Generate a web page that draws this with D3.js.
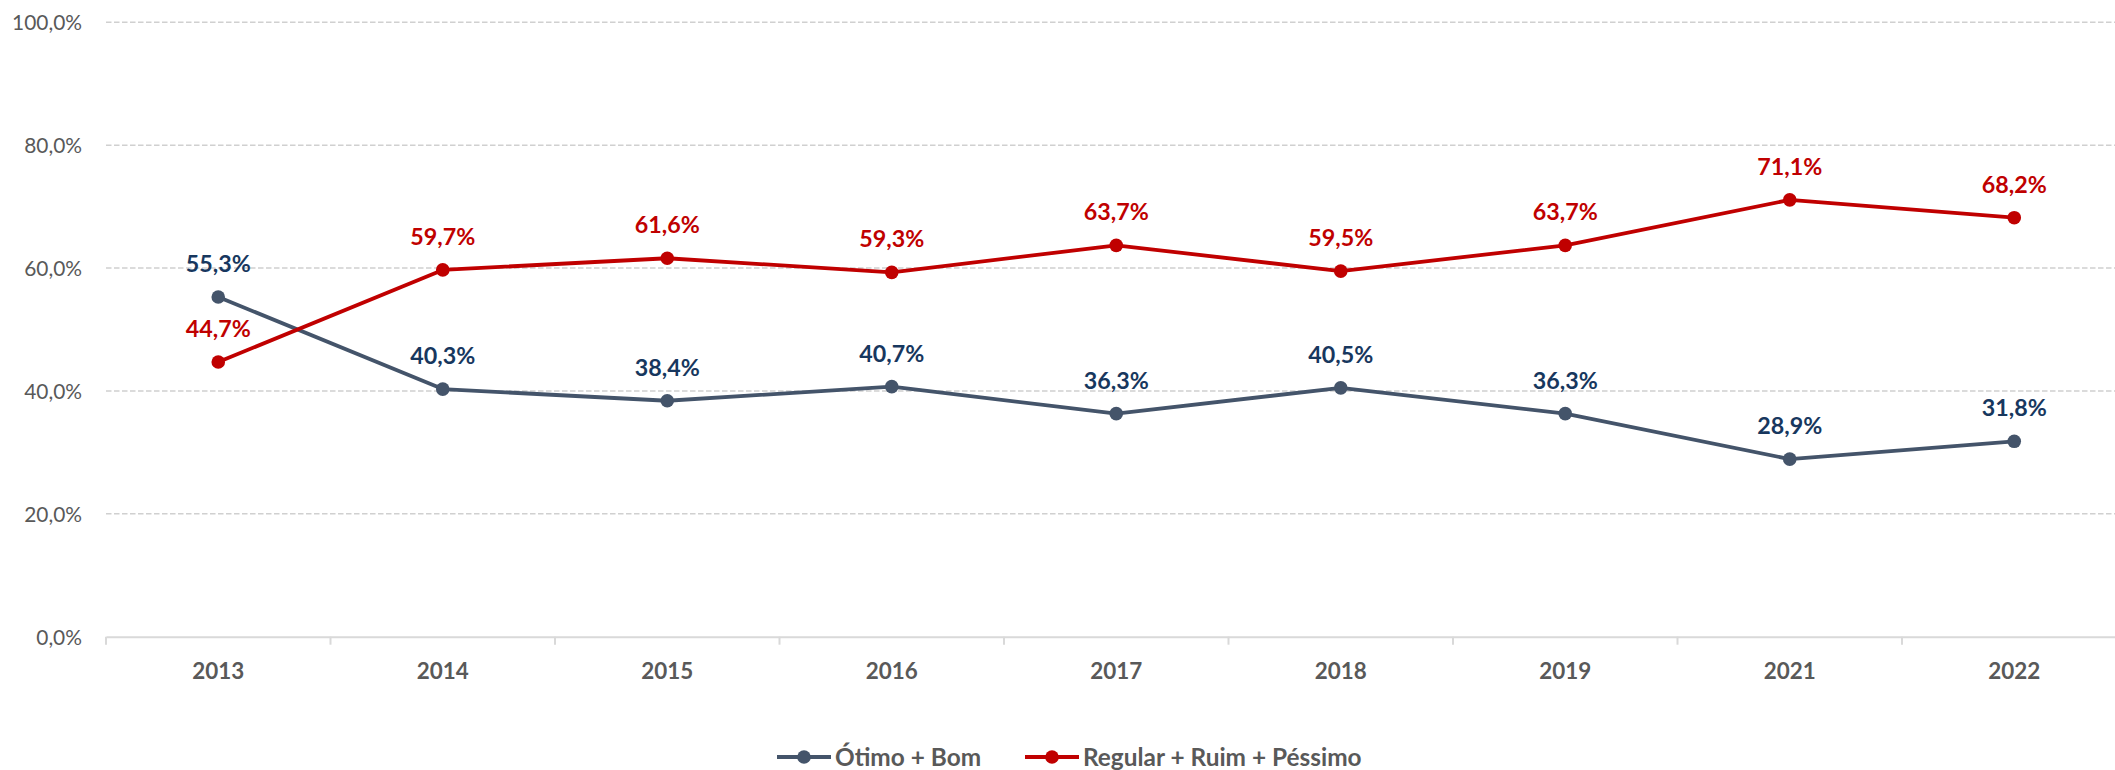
<!DOCTYPE html>
<html><head><meta charset="utf-8">
<script src="https://cdn.jsdelivr.net/npm/d3@7"></script>
<style>html,body{margin:0;padding:0;background:#fff;overflow:hidden}</style>
</head><body>
<script>
const categories = ["2013","2014","2015","2016","2017","2018","2019","2021","2022"];
const otimoBom = [55.3,40.3,38.4,40.7,36.3,40.5,36.3,28.9,31.8];
const regularRuimPessimo = [44.7,59.7,61.6,59.3,63.7,59.5,63.7,71.1,68.2];
const yTicks = [0,20,40,60,80,100];
const seriesNames = ["Ótimo + Bom","Regular + Ruim + Péssimo"];
const seriesColors = ["#44546A","#C00000"];
const labelColors = ["#17375E","#C00000"];

const W = 2115, H = 770;
const svg = d3.select("body").append("svg").attr("width",W).attr("height",H);
const font = "Lato, 'Open Sans', sans-serif";
const fmt = v => d3.format(".1f")(v).replace(".",",");

// font size that makes a sample string reach a target width
function fitSize(sample, weight, target){
  const t = svg.append("text").attr("font-family",font).attr("font-size",100).attr("font-weight",weight).text(sample);
  const w = t.node().getComputedTextLength();
  t.remove();
  return 100*target/w;
}
const ySize = fitSize("100,0%","normal",70);
const xSize = fitSize("2013","bold",52);
const lblSize = fitSize("55,3%","bold",65);
const legSize = (fitSize("Ótimo + Bom","bold",144) + fitSize("Regular + Ruim + Péssimo","bold",283))/2;

const x = d3.scaleBand().domain(categories).range([106, 106 + 9*224.5]).paddingInner(0).paddingOuter(0);
const y = d3.scaleLinear().domain([0,100]).range([636.7, 22.3]);

// gridlines
svg.append("g").selectAll("line").data(yTicks.filter(t=>t>0)).join("line")
  .attr("x1",106).attr("x2",W).attr("y1",d=>y(d)).attr("y2",d=>y(d))
  .attr("stroke","#D0D0D0").attr("stroke-width",1.4).attr("stroke-dasharray","5.5,2.5");

// y axis labels
const yAxis = d3.axisLeft(y).tickValues(yTicks).tickSize(0).tickPadding(0).tickFormat(d=>fmt(d)+"%");
const gy = svg.append("g").attr("transform","translate(82,0)").call(yAxis);
gy.select(".domain").remove();
gy.selectAll("text").attr("font-family",font).attr("font-size",ySize).attr("fill","#595959").attr("dy","0.35em");

// x axis
const xAxis = d3.axisBottom(x).tickSize(0).tickPadding(0);
const gx = svg.append("g").attr("transform",`translate(0,${y(0)})`).call(xAxis);
gx.select(".domain").attr("stroke","#D9D9D9").attr("stroke-width",2);
gx.selectAll("text").attr("font-family",font).attr("font-size",xSize).attr("font-weight","bold")
  .attr("fill","#595959").attr("y",34).attr("dy","0.35em");
svg.append("g").selectAll("line").data(categories).join("line")
  .attr("x1",d=>x(d)).attr("x2",d=>x(d)).attr("y1",y(0)).attr("y2",y(0)+8)
  .attr("stroke","#D9D9D9").attr("stroke-width",2);

const series = [otimoBom, regularRuimPessimo];
const cx = (d,i)=>x(categories[i])+x.bandwidth()/2;
const line = d3.line().x(cx).y(d=>y(d));

series.forEach((vals,si)=>{
  svg.append("path").datum(vals).attr("d",line).attr("fill","none")
    .attr("stroke",seriesColors[si]).attr("stroke-width",3.8).attr("stroke-linejoin","round");
  svg.append("g").selectAll("circle").data(vals).join("circle")
    .attr("cx",cx).attr("cy",d=>y(d)).attr("r",6.8).attr("fill",seriesColors[si]);
  svg.append("g").selectAll("text").data(vals).join("text")
    .attr("x",cx).attr("y",d=>y(d)-25)
    .attr("text-anchor","middle").attr("font-family",font).attr("font-size",lblSize).attr("font-weight","bold")
    .attr("fill",labelColors[si]).text(d=>fmt(d)+"%");
});

// legend
const legendX = [777, 1025];
seriesNames.forEach((name,i)=>{
  const g = svg.append("g").attr("transform",`translate(${legendX[i]},757)`);
  g.append("line").attr("x1",0).attr("x2",54).attr("stroke",seriesColors[i]).attr("stroke-width",3.8);
  g.append("circle").attr("cx",27).attr("r",6.8).attr("fill",seriesColors[i]);
  g.append("text").attr("x",58).attr("dy","0.35em").attr("font-family",font).attr("font-size",legSize)
    .attr("font-weight","bold").attr("fill","#595959").text(name);
});
</script>
</body></html>
